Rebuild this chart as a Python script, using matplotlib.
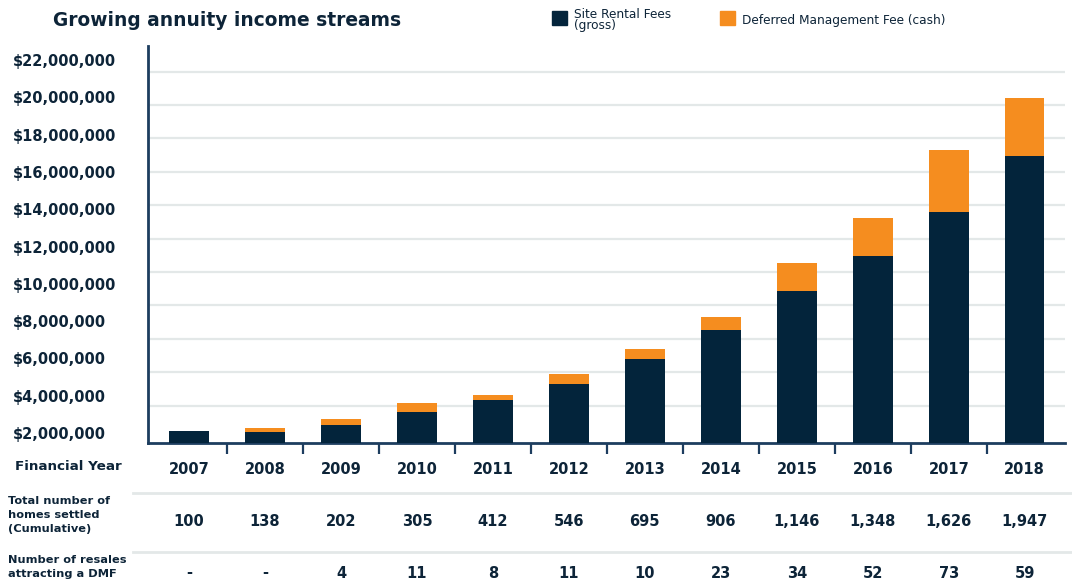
import numpy as np
import matplotlib.pyplot as plt
from matplotlib import transforms
from matplotlib.patches import Rectangle
from matplotlib.lines import Line2D
from matplotlib.ticker import FixedLocator

# ---- data ----
years = ['2007', '2008', '2009', '2010', '2011', '2012',
         '2013', '2014', '2015', '2016', '2017', '2018']
site_rental = [760_000, 700_000, 1_100_000, 1_860_000, 2_590_000, 3_550_000,
               5_050_000, 6_770_000, 9_100_000, 11_220_000, 13_830_000, 17_220_000]
dmf_cash = [0, 240_000, 340_000, 570_000, 320_000, 580_000,
            580_000, 790_000, 1_710_000, 2_270_000, 3_750_000, 3_440_000]
homes_settled = ['100', '138', '202', '305', '412', '546',
                 '695', '906', '1,146', '1,348', '1,626', '1,947']
resales_dmf = ['-', '-', '4', '11', '8', '11', '10', '23', '34', '52', '73', '59']
ytick_labels = ['$2,000,000', '$4,000,000', '$6,000,000', '$8,000,000',
                '$10,000,000', '$12,000,000', '$14,000,000', '$16,000,000',
                '$18,000,000', '$20,000,000', '$22,000,000']

navy = '#03243b'
orange = '#f58d1f'
text_col = '#0d2438'
grid_col = '#e3e8e8'
axis_col = '#1d3d5f'

plt.rcParams['font.family'] = ['DejaVu Sans']

W, H = 1072, 581
fig = plt.figure(figsize=(W / 100, H / 100), dpi=100)
ax = fig.add_axes([148 / W, 1 - 443.3 / H, (1065 - 148) / W, (443.3 - 46) / H])

x = np.arange(len(years))
ax.bar(x, site_rental, width=0.52, color=navy, zorder=3)
ax.bar(x, dmf_cash, width=0.52, bottom=site_rental, color=orange, zorder=3)

ax.set_xlim(-0.54, 11.53)
ax.set_ylim(0, 23.8e6)

# gridlines every $2M (the original sits them a touch above round values)
ax.yaxis.set_minor_locator(FixedLocator(np.arange(2.26e6, 23e6, 2e6)))
ax.grid(which='minor', axis='y', color=grid_col, linewidth=1.6, zorder=0)
ax.tick_params(axis='y', which='minor', length=0)

# the printed labels sit evenly spaced but not on the gridlines
ax.set_yticks(np.linspace(0.62e6, 22.95e6, len(ytick_labels)))
ax.set_yticklabels(ytick_labels)
ax.tick_params(axis='y', which='major', length=0, pad=97, labelsize=10.5,
               labelcolor=text_col)
for lbl in ax.get_yticklabels():
    lbl.set_ha('left')
    lbl.set_fontweight('bold')

# separator ticks between years
ax.set_xticks(x[:-1] + 0.5)
ax.set_xticklabels([])
ax.tick_params(axis='x', length=8, width=1.6, color=axis_col)
ax.xaxis.get_major_ticks()[0].tick1line.set_color('black')

for s in ['top', 'right']:
    ax.spines[s].set_visible(False)
for s in ['left', 'bottom']:
    ax.spines[s].set_color(axis_col)
    ax.spines[s].set_linewidth(2)

# ---- title and legend ----
fig.text(53 / W, 1 - 20 / H, 'Growing annuity income streams', fontsize=13.4,
         color=text_col, va='center', ha='left', fontweight='bold')

fig.add_artist(Rectangle((552 / W, 1 - 25 / H), 15 / W, 14 / H,
                         transform=fig.transFigure, color=navy))
fig.text(574 / W, 1 - 20 / H, 'Site Rental Fees\n(gross)', fontsize=8.7,
         color=text_col, va='center', ha='left', linespacing=0.9)
fig.add_artist(Rectangle((720 / W, 1 - 25 / H), 15 / W, 14 / H,
                         transform=fig.transFigure, color=orange))
fig.text(742 / W, 1 - 20.5 / H, 'Deferred Management Fee (cash)', fontsize=8.7,
         color=text_col, va='center', ha='left')

# ---- table below the chart ----
tr = transforms.blended_transform_factory(ax.transData, fig.transFigure)
row_y = [1 - 469 / H, 1 - 521 / H, 1 - 573 / H]
for i in x:
    ax.text(i, row_y[0], years[i], transform=tr, ha='center', va='center',
            fontsize=10.5, color=text_col, fontweight='bold')
    ax.text(i, row_y[1], homes_settled[i], transform=tr, ha='center', va='center',
            fontsize=10.5, color=text_col, fontweight='bold')
    ax.text(i, row_y[2], resales_dmf[i], transform=tr, ha='center', va='center',
            fontsize=10.5, color=text_col, fontweight='bold')

fig.text(15 / W, 1 - 467 / H, 'Financial Year', fontsize=9.7, color=text_col,
         va='center', ha='left', fontweight='bold')
fig.text(8 / W, 1 - 515 / H, 'Total number of\nhomes settled\n(Cumulative)',
         fontsize=8.2, color=text_col, va='center', ha='left', linespacing=1.55,
         fontweight='bold')
fig.text(8 / W, 1 - 567 / H, 'Number of resales\nattracting a DMF',
         fontsize=8.2, color=text_col, va='center', ha='left', linespacing=1.55,
         fontweight='bold')

for yy in [493, 551.7]:
    fig.add_artist(Line2D([133 / W, 1], [1 - yy / H, 1 - yy / H],
                          transform=fig.transFigure, color=grid_col, linewidth=2))

fig.savefig('out.png', dpi=100)
